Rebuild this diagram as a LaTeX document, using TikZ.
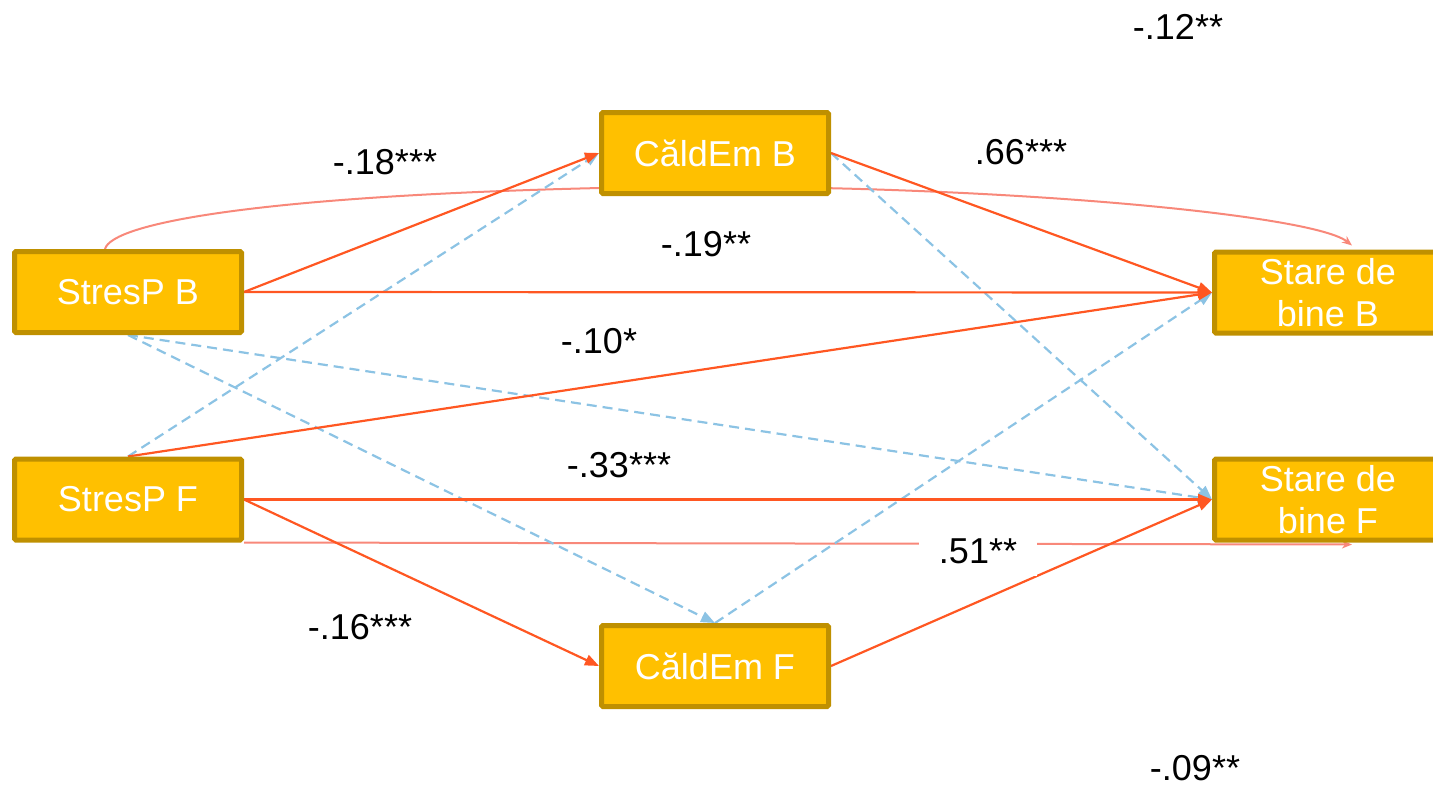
\documentclass[tikz,border=0pt]{standalone}
\usepackage{fontspec}
\setmainfont{Liberation Sans}
\usetikzlibrary{arrows.meta,backgrounds}
\definecolor{boxfill}{HTML}{FFC000}
\definecolor{boxborder}{HTML}{BF9000}
\definecolor{orng}{RGB}{255,87,34}
\definecolor{salmon}{RGB}{248,136,122}
\definecolor{lblue}{RGB}{140,195,228}
\newcommand{\bigfont}{\fontsize{36}{42}\selectfont}
\tikzset{
  varbox/.style={draw=boxborder, fill=boxfill, line width=5pt, rounded corners=1.5pt,
    minimum width=227pt, minimum height=81pt, inner sep=0pt, text=white,
    font=\bigfont, align=center},
  coef/.style={font=\bigfont, text=black, inner sep=0pt},
  solidarr/.style={draw=orng, line width=2.2pt, -{Triangle[length=14pt,width=11pt]}},
  dasharr/.style={draw=lblue, line width=2.2pt, dash pattern=on 10pt off 6pt,
    -{Triangle[length=14pt,width=11pt]}},
  covarr/.style={draw=salmon, line width=2pt, -{Stealth[length=10pt,width=8pt,inset=3pt]}}
}
\begin{document}
\begin{tikzpicture}[x=1pt,y=-1pt]
\useasboundingbox (0,0) rectangle (1433,787);
\clip (0,0) rectangle (1433,787);
% boxes
\node[varbox] (spb) at (128,292) {StresP B};
\node[varbox] (spf) at (128,499.5) {StresP F};
\node[varbox] (cb) at (715,153) {CăldEm B};
\node[varbox] (cf) at (715,666) {CăldEm F};
\node[varbox] (sbb) at (1328,292.5) {Stare de\\bine B};
\node[varbox] (sbf) at (1328,499.5) {Stare de\\bine F};
\begin{pgfonlayer}{background}
% covariance-like lines
\draw[covarr] ([xshift=-23pt]spb.north) .. controls +(7,-26) and (260,196) .. (600,188)
   .. controls (940,180) and (1310,212) .. ([xshift=24pt,yshift=4pt]sbb.north);
\draw[covarr] (spf.south east) -- ([xshift=24pt,yshift=-2pt]sbf.south);
% dashed paths
\draw[dasharr] (spf.north) -- (cb.west);
\draw[dasharr] (spb.south) -- (cf.north);
\draw[dasharr] (spb.south) -- (sbf.west);
\draw[dasharr] (cb.east) -- (sbf.west);
\draw[dasharr] (cf.north) -- (sbb.west);
% solid paths
\draw[solidarr] (spb.east) -- (cb.west);
\draw[solidarr] (spb.east) -- (sbb.west);
\draw[solidarr] (cb.east) -- (sbb.west);
\draw[solidarr] (spf.north) -- (sbb.west);
\draw[solidarr] (spf.east) -- (sbf.west);
\draw[solidarr] (spf.east) -- (cf.west);
\draw[solidarr] (cf.east) -- (sbf.west);
\end{pgfonlayer}
% coefficients
\node[coef] (c1) at (1178,27) {-.12**};
\node[coef] (c2) at (385,162) {-.18***};
\node[coef] (c3) at (1021,152) {.66***};
\node[coef] (c4) at (706,244) {-.19**};
\node[coef] (c5) at (599,341) {-.10*};
\node[coef] (c6) at (619,465) {-.33***};
\node[coef, fill=white, inner xsep=20pt, inner ysep=12pt] (c7) at (978,551) {.51**};
\node[coef] (c8) at (360,627) {-.16***};
\node[coef] (c9) at (1195,768) {-.09**};
\end{tikzpicture}
\end{document}
